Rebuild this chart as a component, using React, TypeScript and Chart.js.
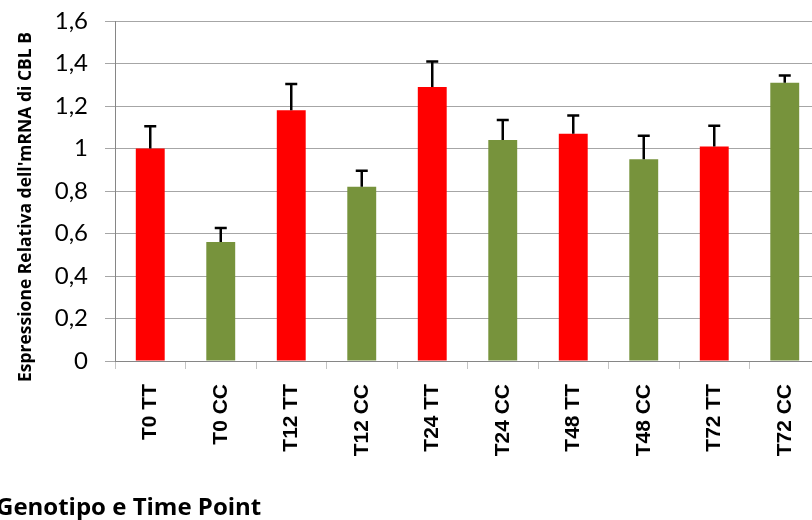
import React, { useEffect, useRef } from "react";
import { Chart, registerables } from "chart.js";

Chart.register(...registerables);

// Sample groups: genotype at each time point
const categories = ["T0 TT", "T0 CC", "T12 TT", "T12 CC", "T24 TT", "T24 CC", "T48 TT", "T48 CC", "T72 TT", "T72 CC"];
// Relative mRNA expression (mean) and upper error (SD)
const expression = [1.0, 0.56, 1.18, 0.82, 1.29, 1.04, 1.07, 0.95, 1.01, 1.31];
const errorUp = [0.105, 0.066, 0.124, 0.075, 0.119, 0.094, 0.085, 0.11, 0.097, 0.034];
const genotypeColors = ["#FF0000", "#77933C"];

const yTitle = "Espressione Relativa dell'mRNA di CBL B";
const xTitle = "Genotipo e Time Point";

const errorBarPlugin = {
  id: "errorBars",
  afterDatasetsDraw(chart: any) {
    const { ctx } = chart;
    const meta = chart.getDatasetMeta(0);
    const yScale = chart.scales.y;
    ctx.save();
    ctx.strokeStyle = "#000";
    ctx.lineWidth = 2.5;
    meta.data.forEach((bar: any, i: number) => {
      const top = yScale.getPixelForValue(expression[i] + errorUp[i]);
      const base = yScale.getPixelForValue(expression[i]);
      ctx.beginPath();
      ctx.moveTo(bar.x, base);
      ctx.lineTo(bar.x, top);
      ctx.moveTo(bar.x - 6, top);
      ctx.lineTo(bar.x + 6, top);
      ctx.stroke();
    });
    ctx.restore();
  },
};

const axisTitlePlugin = {
  id: "axisTitles",
  afterDraw(chart: any) {
    const { ctx, chartArea } = chart;
    ctx.save();
    ctx.fillStyle = "#000";
    // vertical title, reading bottom to top, starting just below the plot top
    ctx.font = "bold 17.5px 'Open Sans'";
    ctx.translate(31, chartArea.top + 11);
    ctx.rotate(-Math.PI / 2);
    ctx.textAlign = "right";
    ctx.textBaseline = "alphabetic";
    ctx.fillText(yTitle, 0, 0);
    ctx.restore();

    ctx.save();
    ctx.fillStyle = "#000";
    ctx.font = "bold 24px 'Open Sans'";
    ctx.textAlign = "left";
    ctx.textBaseline = "alphabetic";
    ctx.fillText(xTitle, -4, chartArea.bottom + 154);
    ctx.restore();
  },
};

export default function App() {
  const canvasRef = useRef<HTMLCanvasElement | null>(null);

  useEffect(() => {
    if (!canvasRef.current) return;
    const chart = new Chart(canvasRef.current, {
      type: "bar",
      data: {
        labels: categories,
        datasets: [
          {
            data: expression,
            backgroundColor: categories.map((_, i) => genotypeColors[i % 2]),
            borderWidth: 0,
            barPercentage: 0.41,
            categoryPercentage: 1,
          },
        ],
      },
      options: {
        responsive: false,
        animation: false,
        layout: { padding: { top: 21, right: 20, left: 0, bottom: 0 } },
        plugins: { legend: { display: false }, tooltip: { enabled: false } },
        scales: {
          y: {
            min: 0,
            max: 1.6,
            ticks: {
              stepSize: 0.2,
              color: "#000",
              padding: 17,
              font: { family: "Lato", size: 24 },
              callback: (v: any) => Number(v).toLocaleString("it-IT", { maximumFractionDigits: 1 }),
            },
            grid: { color: "#a6a6a6", lineWidth: 1, tickLength: 10 },
            border: { color: "#868686", width: 1 },
            afterFit: (s: any) => {
              s.width = 115;
              s.paddingTop = 0;
              s.paddingBottom = 0;
            },
          },
          x: {
            ticks: {
              color: "#000",
              minRotation: 90,
              maxRotation: 90,
              padding: 15,
              font: { family: "Liberation Sans", size: 21, weight: "bold" },
            },
            grid: { drawOnChartArea: false, offset: true, tickLength: 8, color: "#c4c4c4" },
            border: { color: "#868686", width: 1 },
            afterFit: (s: any) => {
              s.height = 159;
            },
          },
        },
      },
      plugins: [errorBarPlugin, axisTitlePlugin],
    });
    return () => chart.destroy();
  }, []);

  return (
    <div
      style={{
        position: "fixed",
        left: 0,
        top: 0,
        width: 812,
        height: 520,
        overflow: "hidden",
        background: "#fff",
      }}
    >
      <canvas ref={canvasRef} width={840} height={520} style={{ display: "block" }} />
    </div>
  );
}
